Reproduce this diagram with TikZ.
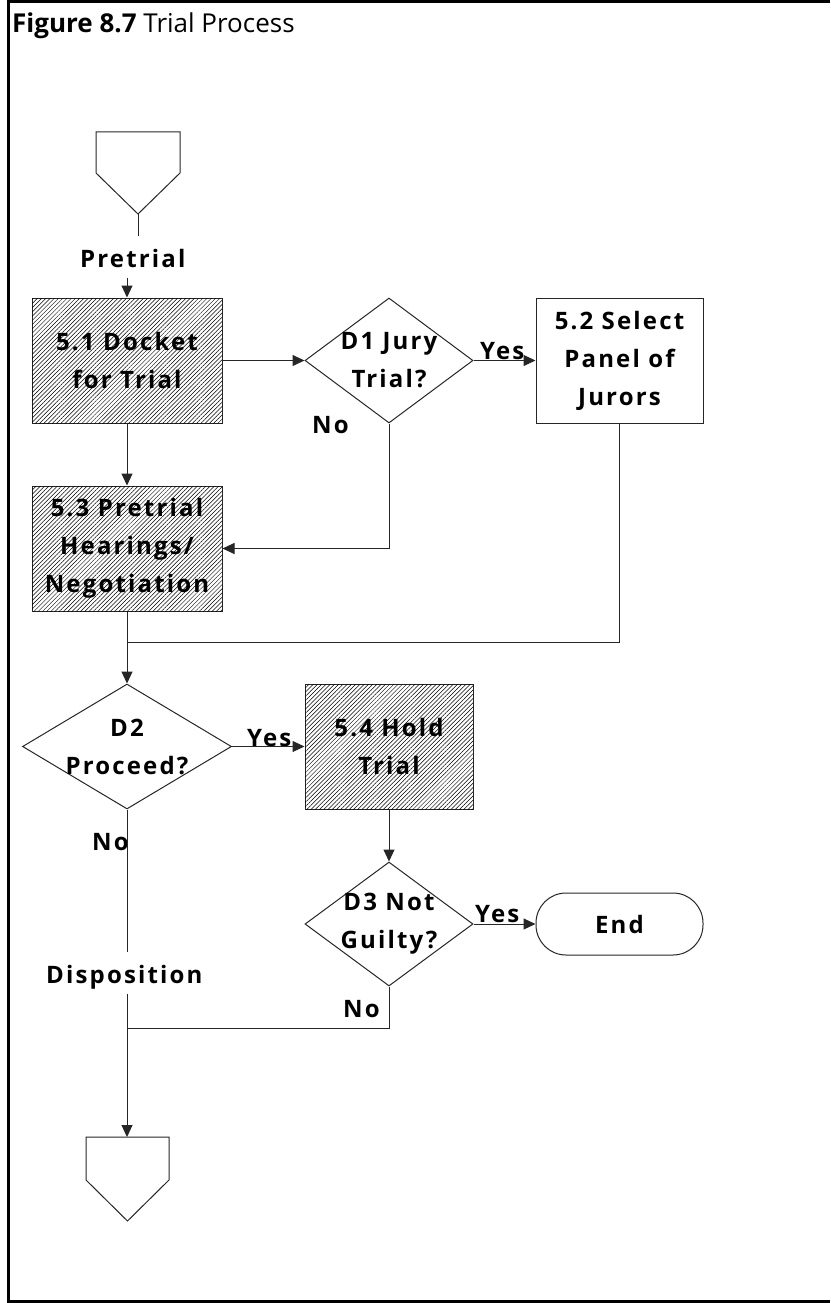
\documentclass[tikz,border=0pt]{standalone}
\usepackage{fontspec}
\setmainfont{Open Sans}
\newfontfamily\lblfont[LetterSpace=9]{Open Sans}
\usetikzlibrary{arrows.meta,patterns.meta,shapes.geometric}
\begin{document}
\begin{tikzpicture}[x=1pt,y=-1pt,
  lbl/.style={font={\lblfont\bfseries\fontsize{24}{38}\selectfont}, inner sep=0pt, align=center},
  shapeline/.style={draw=black!85, line width=1pt},
  procbox/.style={shapeline, fill=white, minimum width=190pt, minimum height=125pt, inner sep=0pt},
  hatched/.style={postaction={pattern={Lines[angle=45,distance=3pt,line width=0.5pt]}, pattern color=black}},
  decision/.style={shapeline, shape=diamond, minimum width=168pt, minimum height=125pt, inner sep=0pt},
  terminal/.style={shapeline, rounded corners=30pt, minimum width=167pt, minimum height=62pt, inner sep=0pt},
  conn/.style={draw=black!85, line width=1pt},
  arr/.style={conn, -{Triangle[length=12pt,width=11pt]}}
]
\useasboundingbox (0,0) rectangle (830,1303);
% frame
\draw[line width=3pt] (830,1.5) -- (8.5,1.5) -- (8.5,1301.5) -- (830,1301.5);
% title
\node[anchor=base west, inner sep=0pt, font={\fontsize{26}{30}\selectfont}] (title) at (12,33) {\textbf{Figure 8.7} Trial Process};

% off-page connectors
\draw[shapeline] (96,132) -- (180,132) -- (180,173) -- (138,214) -- (96,173) -- cycle;
\coordinate (offtop) at (138,214);
\coordinate (pretop) at (138,236);
\draw[shapeline] (86,1137) -- (169,1137) -- (169,1180) -- (127.5,1221) -- (86,1180) -- cycle;
\coordinate (offbot) at (127,1137);

% nodes
\node[procbox, hatched, lbl] (b51) at (127,360.5) {5.1 Docket\\for Trial};
\node[decision] (d1) at (389,360.5) {};
\node[lbl] (d1t) at (d1.center) {D1 Jury\\Trial?};
\node[procbox, lbl, minimum width=167pt] (b52) at (619.5,360.5) {5.2 Select\\Panel of\\Jurors};
\node[procbox, hatched, lbl] (b53) at (127,548.5) {5.3 Pretrial\\Hearings/\\Negotiation};
\node[decision, minimum width=209pt] (d2) at (127,746.5) {};
\node[lbl] (d2t) at (d2.center) {D2\\Proceed?};
\node[procbox, hatched, lbl, minimum width=168pt] (b54) at (389,746.5) {5.4 Hold\\Trial};
\node[decision, minimum height=124pt] (d3) at (389,924) {};
\node[lbl] (d3t) at (d3.center) {D3 Not\\Guilty?};
\node[terminal, lbl] (end) at (619.5,924) {End};

% text labels
\node[lbl, anchor=base west] (pretrial) at (80,267) {Pretrial};
\node[lbl, anchor=base west] (disp) at (46,983) {Disposition};
\node[lbl, anchor=base west] (yes1) at (480,359) {Yes};
\node[lbl, anchor=base west] (no1) at (312,433) {No};
\node[lbl, anchor=base west] (yes2) at (247,746) {Yes};
\node[lbl, anchor=base west] (no2) at (92,850) {No};
\node[lbl, anchor=base west] (yes3) at (475,922) {Yes};
\node[lbl, anchor=base west] (no3) at (343,1017) {No};

% coordinates for connectors
\coordinate (prebot) at (127,278);
\coordinate (j1) at (127,642);
\coordinate (j2) at (127,1028);
\coordinate (dtop) at (127,952);
\coordinate (dbot) at (127,994);

% connectors
\draw[conn] (offtop) -- (pretop);
\draw[arr] (prebot) -- (b51.north);
\draw[arr] (b51.east) -- (d1.west);
\draw[arr] (d1.east) -- (b52.west);
\draw[arr] (b51.south) -- (b53.north);
\draw[arr] (d1.south) |- (b53.east);
\draw[conn] (b53.south) -- (j1);
\draw[conn] (b52.south) |- (j1);
\draw[arr] (j1) -- (d2.north);
\draw[arr] (d2.east) -- (b54.west);
\draw[arr] (b54.south) -- (d3.north);
\draw[arr] (d3.east) -- (end.west);
\draw[conn] (d2.south) -- (dtop);
\draw[conn] (d3.south) |- (j2);
\draw[arr] (dbot) -- (offbot);
\end{tikzpicture}
\end{document}
